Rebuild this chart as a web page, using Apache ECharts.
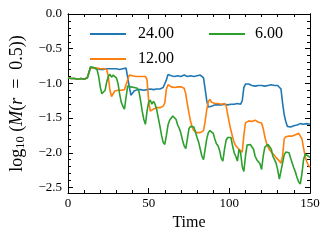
<!DOCTYPE html>
<html>
<head>
<meta charset="utf-8">
<script src="https://cdn.jsdelivr.net/npm/echarts@6/dist/echarts.min.js"></script>
<style>html,body{margin:0;padding:0;background:#fff}#c{width:330px;height:241px}</style>
</head>
<body>
<div id="c"></div>
<script>
var seriesNames = ['24.00', '12.00', '6.00'];
var seriesColors = ['#1f77b4', '#ff7f0e', '#2ca02c'];
var xTicks = [0, 50, 100, 150];
var yTicks = [0.0, -0.5, -1.0, -1.5, -2.0, -2.5];

var s24 = [
 -0.92,-0.93,-0.93,-0.94,-0.93,-0.94,-0.94,-0.93,-0.93,-0.93,-0.94,-0.93,-0.92,-0.90,
 -0.77,-0.77,-0.78,-0.78,-0.79,-0.79,-0.80,-0.79,-0.80,-0.79,-0.79,-0.80,-0.79,-0.78,-0.79,-0.80,-0.79,-0.79,-0.80,-0.79,-0.79,-0.79,-0.78,-0.80,
 -1.05,-1.17,-1.16,-1.11,-1.10,-1.09,-1.10,-1.09,-1.09,-1.10,-1.09,-1.09,-1.09,-1.08,-1.09,-1.09,-1.08,-1.08,-1.07,-1.08,-1.07,-1.06,-1.06,
 -0.95,-0.87,-0.88,-0.89,-0.89,-0.90,-0.90,-0.89,-0.90,-0.90,-0.89,-0.88,-0.89,-0.90,-0.90,-0.89,-0.89,-0.90,-0.89,-0.89,-0.89,-0.88,-0.89,-0.92,
 -1.08,-1.25,-1.34,-1.35,-1.33,-1.32,-1.31,-1.32,-1.31,-1.31,-1.31,-1.31,-1.30,-1.31,-1.31,-1.30,-1.30,-1.31,-1.30,-1.30,-1.29,-1.31,-1.30,-1.25,
 -1.06,-1.01,-1.02,-1.01,-1.03,-1.03,-1.02,-1.04,-1.04,-1.03,-1.04,-1.03,-1.03,-1.04,-1.04,-1.03,-1.03,-1.02,-1.03,-1.03,-1.02,-1.03,-1.03,
 -1.08,-1.28,-1.45,-1.55,-1.62,-1.64,-1.63,-1.61,-1.61,-1.60,-1.60,-1.59,-1.58,-1.58,-1.59,-1.59,-1.58,-1.59,-1.59
];
var s12 = [
 -0.92,-0.93,-0.93,-0.94,-0.93,-0.94,-0.94,-0.93,-0.93,-0.93,-0.94,-0.93,-0.92,-0.90,
 -0.77,-0.77,-0.78,-0.78,-0.78,-0.79,-0.79,-0.78,-0.79,-0.79,-0.80,
 -0.90,-1.10,-1.19,-1.18,-1.11,-1.10,-1.10,-1.11,-1.10,-1.10,-1.09,-1.10,
 -0.95,-0.88,-0.89,-0.89,-0.90,-0.90,-0.89,-0.90,-0.91,-0.90,-0.90,-0.90,-0.95,
 -1.25,-1.40,-1.41,-1.37,-1.35,-1.35,-1.34,-1.35,-1.34,-1.33,-1.28,
 -1.08,-1.02,-1.04,-1.05,-1.04,-1.06,-1.06,-1.05,-1.07,-1.05,-1.06,
 -1.07,-1.15,-1.30,-1.43,-1.55,-1.63,-1.68,-1.70,-1.71,-1.72,-1.71,-1.70,
 -1.68,-1.55,-1.38,-1.26,-1.23,-1.27,-1.28,-1.29,-1.28,-1.29,-1.28,-1.30,-1.29,
 -1.29,-1.32,-1.45,-1.57,-1.68,-1.77,-1.85,-1.90,-1.92,-1.95,-1.97,-1.99,-1.75,-1.57,
 -1.55,-1.54,-1.53,-1.55,-1.54,-1.53,-1.55,-1.56,-1.56,
 -1.57,-1.65,-1.77,-1.86,-1.92,-1.96,-1.99,-2.01,-2.04,-2.07,-2.09,-2.12,-2.15,-2.05,-1.80,-1.77,
 -1.76,-1.76,-1.75,-1.76,-1.75,-1.74,-1.74,-1.72,-1.72,-1.80,-1.93,-2.05,-2.13,-2.18,-2.21
];
var s6 = [
 -0.92,-0.93,-0.93,-0.94,-0.93,-0.94,-0.94,-0.93,-0.93,-0.93,-0.94,-0.93,-0.92,-0.90,
 -0.76,-0.77,-0.77,-0.78,-0.80,-0.90,-1.05,-1.15,-1.17,-1.10,-0.98,-0.90,-0.87,-0.91,-0.88,-0.87,-0.92,
 -1.00,-1.15,-1.27,-1.33,-1.37,-1.20,-1.04,-1.02,-1.05,-1.06,-1.06,-1.08,-1.07,-1.12,-1.25,-1.40,-1.52,-1.59,-1.40,-1.27,
 -1.24,-1.30,-1.26,-1.30,-1.38,-1.50,-1.62,-1.75,-1.85,-1.88,-1.75,-1.60,-1.53,-1.50,-1.47,-1.45,-1.52,-1.60,-1.65,-1.72,
 -1.82,-1.90,-1.94,-1.80,-1.65,-1.62,-1.61,-1.63,-1.70,-1.78,-1.85,-1.95,-2.05,-2.10,-1.95,-1.80,-1.71,-1.68,-1.67,-1.72,
 -1.80,-1.87,-1.90,-1.97,-2.08,-2.12,-1.95,-1.82,-1.78,-1.76,-1.78,-1.90,-2.00,-2.05,-2.12,-1.95,-2.00,-2.20,-2.27,-2.05,
 -1.89,-1.90,-1.88,-1.87,-1.95,-2.05,-2.10,-2.13,-2.16,-2.24,-2.05,-1.92,-1.90,-1.88,-1.88,-1.95,-2.05,-2.10,-2.15,-2.25,
 -2.38,-2.40,-2.15,-2.03,-1.99,-1.97,-2.00,-2.08,-2.15,-2.22,-2.28,-2.36,-2.42,-2.45,-2.30,-2.10,-2.02,-2.03,-2.05,-2.07
];
var seriesValues = [s24, s12, s6];

var FONT = '"Liberation Serif", "DejaVu Serif", serif';
function pairs(arr) { return arr.map(function (v, i) { return [i, v]; }); }
function fmtY(v) {
  var r = Math.round(v * 10) / 10;
  if (Math.abs(r - v) > 1e-6 || yTicks.indexOf(r) < 0) return '';
  return r.toFixed(1).replace('-', '\u2212');
}

function xAx(pos, labels) {
  return {
    type: 'value', position: pos, min: 0, max: 150, interval: 50,
    axisLine: { show: true, onZero: false, lineStyle: { color: '#000', width: 1 } },
    axisTick: { show: true, inside: true, length: 5, lineStyle: { color: '#000', width: 1 } },
    minorTick: { show: true, splitNumber: 5, length: 3, lineStyle: { color: '#000', width: 1 } },
    splitLine: { show: false }, minorSplitLine: { show: false },
    axisLabel: labels ? { show: true, color: '#000', fontSize: 13, fontFamily: FONT, margin: 4,
      formatter: function (v) { return xTicks.indexOf(v) >= 0 ? String(v) : ''; } } : { show: false },
    name: labels ? 'Time' : '', nameLocation: 'middle', nameGap: 22,
    nameTextStyle: { color: '#000', fontSize: 16, fontFamily: FONT }
  };
}
function yAx(pos, split, len, labels) {
  return {
    type: 'value', position: pos, min: -2.58, max: 0, splitNumber: split,
    axisLine: { show: true, onZero: false, lineStyle: { color: '#000', width: 1 } },
    axisTick: { show: true, inside: true, length: len, lineStyle: { color: '#000', width: 1 } },
    splitLine: { show: false },
    axisLabel: labels ? { show: true, color: '#000', fontSize: 13, fontFamily: FONT, margin: 6,
      showMinLabel: false, formatter: fmtY } : { show: false },
    name: labels ? '{n|log}{s|10}{n| (}{i|M}{n|(}{i|r}{n|  =  0.5))}' : '',
    nameLocation: 'middle', nameGap: 40, nameRotate: 90,
    nameTextStyle: labels ? {
      color: '#000', fontSize: 18, fontFamily: FONT,
      rich: {
        n: { fontSize: 18, fontFamily: FONT, color: '#000', lineHeight: 21 },
        i: { fontSize: 18, fontFamily: FONT, fontStyle: 'italic', color: '#000', lineHeight: 21 },
        s: { fontSize: 12.5, fontFamily: FONT, color: '#000', lineHeight: 12, verticalAlign: 'bottom' }
      }
    } : {}
  };
}

function legendLabel(pad) {
  return function (name) { return '{t|' + name + '}'; };
}
function legendText(pad) {
  return { color: '#000', fontSize: 16, fontFamily: FONT,
    rich: { t: { color: '#000', fontSize: 16, fontFamily: FONT, padding: [0, 0, 0, pad] } } };
}

var chart = echarts.init(document.getElementById('c'), null, { renderer: 'canvas' });
chart.setOption({
  animation: false,
  backgroundColor: '#fff',
  grid: { left: 65, right: 20, top: 14, bottom: 48, containLabel: false },
  xAxis: [xAx('bottom', true), xAx('top', false)],
  yAxis: [yAx('left', 5, 5, true), yAx('left', 26, 3, false), yAx('right', 5, 5, false), yAx('right', 26, 3, false)],
  legend: [
    { data: [seriesNames[0], seriesNames[1]], orient: 'vertical', left: 90, top: 26, padding: 0, itemWidth: 36, itemHeight: 2,
      itemGap: 9, icon: 'rect', formatter: legendLabel(7), textStyle: legendText(7) },
    { data: [seriesNames[2]], orient: 'vertical', left: 209, top: 26, padding: 0, itemWidth: 36, itemHeight: 2,
      itemGap: 9, icon: 'rect', formatter: legendLabel(5), textStyle: legendText(5) }
  ],
  series: seriesNames.map(function (n, k) {
    return {
      name: n, type: 'line', xAxisIndex: 0, yAxisIndex: 0, data: pairs(seriesValues[k]),
      showSymbol: false, symbol: 'none', color: seriesColors[k],
      lineStyle: { color: seriesColors[k], width: 1.6 }, clip: true
    };
  })
});
</script>
</body>
</html>
